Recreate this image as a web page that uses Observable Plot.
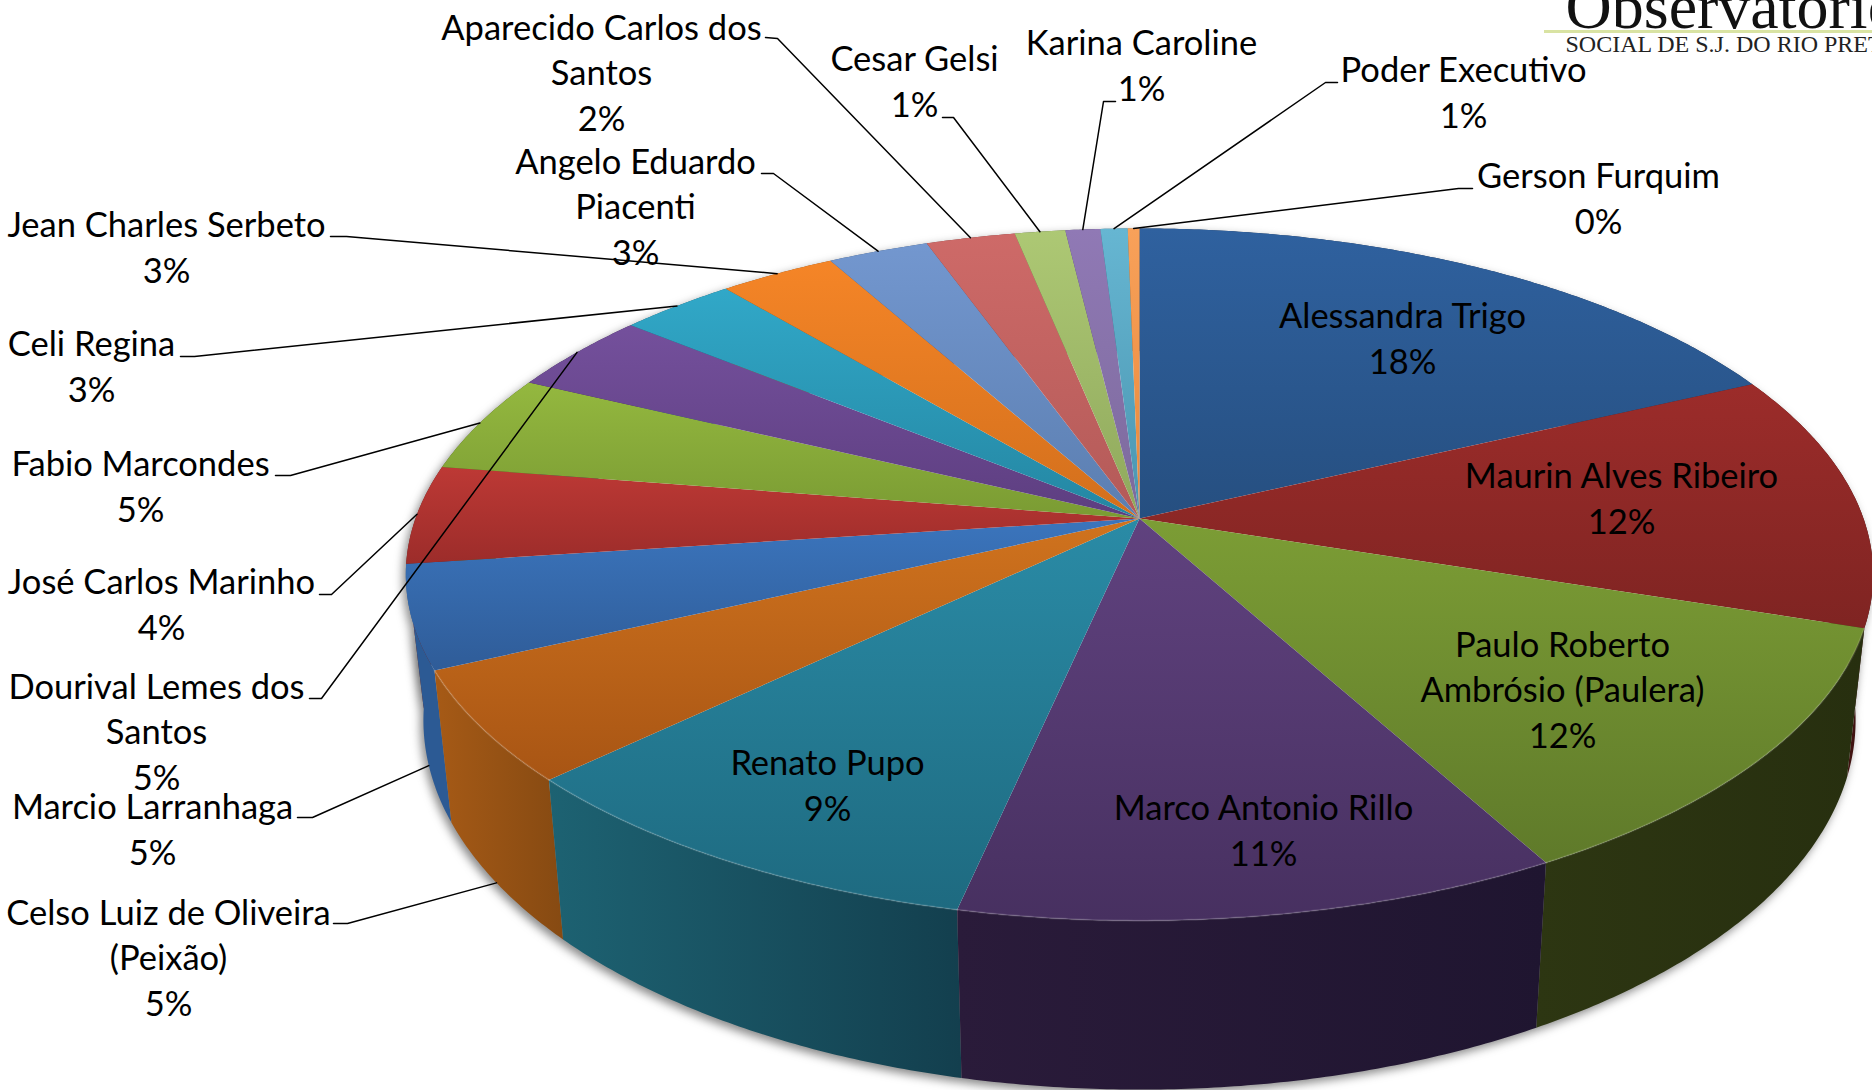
<!DOCTYPE html>
<html>
<head>
<meta charset="utf-8">
<script src="https://cdn.jsdelivr.net/npm/d3@7"></script>
<script src="https://cdn.jsdelivr.net/npm/@observablehq/plot@0.6"></script>
<style>
html,body{margin:0;padding:0;background:#fff;overflow:hidden}
</style>
</head>
<body>
<div id="chart"></div>
<script>
// ---- data, clockwise from twelve o'clock ----
const names = ["Alessandra Trigo","Maurin Alves Ribeiro","Paulo Roberto\nAmbrósio (Paulera)","Marco Antonio Rillo","Renato Pupo","Celso Luiz de Oliveira\n(Peixão)","Marcio Larranhaga","José Carlos Marinho","Fabio Marcondes","Dourival Lemes dos\nSantos","Celi Regina","Jean Charles Serbeto","Angelo Eduardo\nPiacenti","Aparecido Carlos dos\nSantos","Cesar Gelsi","Karina Caroline","Poder Executivo","Gerson Furquim"];
const shares = [18,12,12,11.4,9.5,5.2,4.8,4.6,4.6,3.8,3,3,2.6,2.3,1.3,0.9,0.7,0.3];
const percentLabels = ["18%","12%","12%","11%","9%","5%","5%","4%","5%","5%","3%","3%","3%","2%","1%","1%","1%","0%"];

// ---- styles ----
const topStart = ["#2f619f","#9c2c2a","#7c9d35","#60427f","#2a8ba6","#d0731e","#3b75bd","#bd3935","#94b83f","#74509c","#31a8c8","#f58527","#7397cf","#ce6a68","#adc874","#9079b5","#66b6d2","#f8a15a"];
const topEnd   = ["#264f80","#7f2422","#5f7a2a","#473060","#1e6a80","#a85514","#2f5c98","#9c2c2a","#7a9b33","#5d3e80","#2486a2","#d26f1c","#5b7eb0","#b35a58","#8fa85c","#7c6a9c","#4a95b0","#e8883a"];
const wallStart = ["#1a3050","#4f1816","#2d3612","#2a1b3a","#1d6272","#a65a16","#2c5a94","#6a1e1c","#4a5e20","#3a2750","#1a5a6c","#8a4a12","#3c5578","#7a3c3a","#5f7040","#50466a","#30667a","#a05c26"];
const wallEnd   = ["#1a3050","#3e1210","#272f0f","#1f1530","#133f4e","#864a12","#2c5a94","#6a1e1c","#4a5e20","#3a2750","#1a5a6c","#8a4a12","#3c5578","#7a3c3a","#5f7040","#50466a","#30667a","#a05c26"];

// ---- layout: label block centres and leader elbows, in picture pixels ----
const labelX = [1402,1621,1562,1263,827,168,152,161,140,156,91,166,635,601,914,1141,1463,1598];
const labelY = [336,496,687,828,783,955,827,602,484,729,364,245,204,70,79,63,90,196];
const leaderStart = [null,null,null,null,null,[333,923],[297,817],[319,594],[275,475],[309,698],[180,356],[330,236],[761,173],[765,37],[942,117],[1115,101],[1337,82],[1472,188]];
const leaderElbow = [null,null,null,null,null,[347,923],[312,817],[331,594],[290,475],[321,698],[194,356],[346,236],[773,173],[777,38],[953,117],[1103,101],[1325,82],[1458,188]];
const labelFont = "Lato, 'Open Sans', sans-serif";

// ---- perspective of the pie disc ----
const cx = 1139, cy = 518, a = 724, b = 337, k = 0.162;
const topPoint = t => {
  const u = Math.sin(t), v = -Math.cos(t), w = 1 - k * v;
  return [cx + a * u / w, cy + b * v / w];
};
const bottomPoint = t => {
  const [x, y] = topPoint(t);
  return [cx + 0.976 * (x - cx), 660 + 1.067 * (y - cy)];
};

let cum = 0;
const slices = shares.map((s, i) => {
  const t0 = cum / 100 * 2 * Math.PI;
  cum += s;
  const t1 = cum / 100 * 2 * Math.PI;
  const steps = Math.max(2, Math.ceil((t1 - t0) / 0.008));
  const arc = d3.range(steps + 1).map(j => t0 + (t1 - t0) * j / steps);
  return {i, t0, t1, mid: (t0 + t1) / 2, arc};
});
const xy = ([x, y]) => ({x, y});
const topPoly = s => [{x: cx, y: cy}, ...s.arc.map(t => xy(topPoint(t)))];
const wallPoly = s => [...s.arc.map(t => xy(topPoint(t))), ...s.arc.slice().reverse().map(t => xy(bottomPoint(t)))];

const defs = () => {
  const d = d3.create("svg:defs");
  const grad = (id, c0, c1, horizontal) => {
    const g = d.append("linearGradient").attr("id", id)
      .attr("x1", 0).attr("y1", 0).attr("x2", horizontal ? 1 : 0).attr("y2", horizontal ? 0 : 1);
    g.append("stop").attr("offset", 0).attr("stop-color", c0);
    g.append("stop").attr("offset", 1).attr("stop-color", c1);
  };
  names.forEach((_, i) => {
    grad("top" + i, topStart[i], topEnd[i], false);
    grad("wall" + i, wallStart[i], wallEnd[i], true);
  });
  return d.node();
};

const wallOrder = slices.slice().sort((p, q) => Math.abs(q.mid - Math.PI) - Math.abs(p.mid - Math.PI));
const leaderEnd = s => {
  const front = s.mid > Math.PI / 2 && s.mid < 1.45 * Math.PI;
  return front ? bottomPoint(s.mid) : topPoint(s.mid);
};
const leaders = slices.filter(s => leaderStart[s.i]).flatMap(s => [
  {n: s.i, x: leaderStart[s.i][0], y: leaderStart[s.i][1]},
  {n: s.i, x: leaderElbow[s.i][0], y: leaderElbow[s.i][1]},
  {n: s.i, ...xy(leaderEnd(s))}
]);
const labels = names.map((n, i) => ({text: n + "\n" + percentLabels[i], x: labelX[i], y: labelY[i]}));
const rim = slices.filter(s => s.mid > 1.9 && s.mid < 4.4).flatMap(s => s.arc.map(t => ({n: s.i, ...xy(topPoint(t))})));

const plot = Plot.plot({
  width: 1872, height: 1090,
  margin: 0,
  x: {domain: [0, 1872], range: [0, 1872], axis: null},
  y: {domain: [0, 1090], range: [0, 1090], axis: null},
  style: {background: "#fff"},
  marks: [
    defs,
    // brand mark in the corner
    Plot.text(["Observatório"], {x: [1565], y: [27], textAnchor: "start", lineAnchor: "bottom", fontFamily: "'Liberation Serif', serif", fontSize: 64, fill: "#111"}),
    Plot.ruleY([31], {x1: 1544, x2: 1872, stroke: "#d9e3a3", strokeWidth: 3}),
    Plot.text(["SOCIAL DE S.J. DO RIO PRETO"], {x: [1565], y: [44], textAnchor: "start", fontFamily: "'Liberation Serif', serif", fontSize: 24, fill: "#222"}),
    // walls, back to front
    Plot.line(wallOrder.flatMap(s => wallPoly(s).map(p => ({...p, n: s.i}))), {x: "x", y: "y", z: "n", fill: "#555", stroke: "none", imageFilter: "blur(5px)", dx: -3, dy: 4, fillOpacity: 0.7}),
    ...wallOrder.map(s => Plot.line(wallPoly(s), {x: "x", y: "y", fill: `url(#wall${s.i})`, stroke: "none"})),
    // top faces
    ...slices.map(s => Plot.line(topPoly(s), {x: "x", y: "y", fill: `url(#top${s.i})`, stroke: "none"})),
    Plot.line(rim, {x: "x", y: "y", z: "n", stroke: "#fff", strokeOpacity: 0.12, strokeWidth: 2, fill: "none"}),
    // leaders and labels
    Plot.line(leaders, {x: "x", y: "y", z: "n", stroke: "#000", strokeWidth: 1.5, fill: "none"}),
    Plot.text(labels, {x: "x", y: "y", text: "text", fontFamily: labelFont, fontSize: 34.5, lineHeight: 1.32, fill: "#000", textAnchor: "middle", lineAnchor: "middle"})
  ]
});
document.getElementById("chart").appendChild(plot);
</script>
</body>
</html>
